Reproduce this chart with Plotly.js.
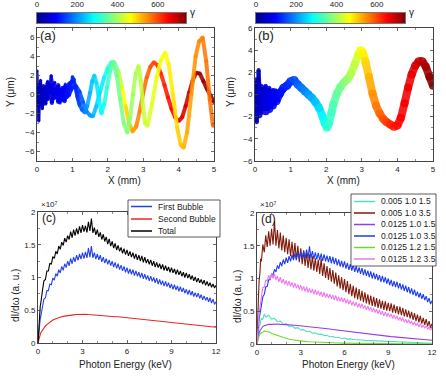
<!DOCTYPE html>
<html>
<head>
<meta charset="utf-8">
<script src="https://cdn.plot.ly/plotly-3.0.1.min.js"></script>
<style>
  html, body { margin: 0; padding: 0; background: #fff; }
  #chart { width: 446px; height: 377px; }
</style>
</head>
<body>
<div id="chart"></div>
<script>
'use strict';

// ---- trajectories, panel (a): x in mm, y in um, g = gamma ----
var trajA1X = [0, 0.06, 0.12, 0.18, 0.24, 0.3, 0.36, 0.42, 0.48, 0.54, 0.6, 0.66, 0.72, 0.78, 0.84, 0.9, 0.96, 1.02, 1.08, 1.14, 1.2, 1.27, 1.35, 1.42, 1.5, 1.56, 1.62, 1.68, 1.75, 1.82, 1.9, 1.98, 2.06, 2.15, 2.25, 2.35, 2.45, 2.55, 2.63, 2.71, 2.79, 2.87, 2.93, 2.99, 3.05, 3.12, 3.25, 3.38, 3.5, 3.62, 3.72, 3.84, 3.96, 4.06, 4.14, 4.24, 4.36, 4.48, 4.58, 4.68, 4.78, 4.88, 4.97];
var trajA1Y = [0, 1.0, -0.8, 0.9, -0.6, 1.2, 0.2, 1.0, -0.4, 0.6, -0.8, 0.5, -0.6, 0.8, -0.3, 0.9, 1.3, 1.4, 0.8, -0.2, -1.0, -1.6, -1.9, -1.2, 0.2, 1.4, 2.0, 1.2, -0.5, -2.0, -1.0, 0.8, 2.4, 3.4, 2.0, -0.5, -3.0, -4.0, -2.5, 0, 2.2, 3.0, 1.5, -1.0, -3.0, -3.3, -1.0, 1.8, 3.6, 4.4, 3.2, 0, -3.5, -5.3, -5.6, -4.0, 0, 4.0, 5.6, 6.0, 3.5, -0.5, -3.3];
var trajA1G = [30, 35, 40, 45, 50, 55, 60, 65, 70, 75, 80, 85, 90, 95, 100, 105, 110, 115, 120, 130, 145, 165, 190, 210, 225, 238, 248, 258, 268, 278, 292, 310, 330, 350, 358, 364, 370, 376, 385, 395, 403, 410, 416, 422, 427, 432, 440, 448, 455, 462, 470, 480, 492, 505, 515, 525, 535, 543, 550, 556, 562, 567, 572];

var trajA2X = [0, 0.06, 0.12, 0.18, 0.24, 0.3, 0.36, 0.42, 0.48, 0.54, 0.6, 0.66, 0.72, 0.78, 0.84, 0.9, 0.96, 1.02, 1.1, 1.2, 1.3, 1.4, 1.5, 1.58, 1.68, 1.78, 1.9, 2.0, 2.1, 2.18, 2.3, 2.4, 2.5, 2.6, 2.7, 2.8, 2.9, 3.0, 3.1, 3.2, 3.3, 3.4, 3.5, 3.6, 3.7, 3.8, 3.9, 4.0, 4.1, 4.2, 4.3, 4.4, 4.5, 4.6, 4.7, 4.8, 4.9, 5.0];
var trajA2Y = [0.4, -1.2, 0.6, -1.0, 0.8, -0.5, 0.9, -0.9, 0.5, -0.2, 1.0, -0.4, 0.7, -0.7, 0.6, -0.1, 0.5, 0.8, 0.9, 0.3, -0.8, -1.8, -2.2, -2.3, -1.2, 0.3, 1.8, 2.8, 3.4, 3.4, 2.4, 0.8, -1.2, -3.0, -3.9, -3.4, -1.8, 0.2, 1.8, 2.9, 3.4, 3.1, 2.2, 1.0, -0.3, -1.5, -2.4, -2.8, -2.4, -1.2, 0.2, 1.5, 2.3, 2.2, 1.4, 0.6, -0.1, -0.8];
var trajA2G = [30, 35, 40, 45, 50, 55, 60, 65, 70, 75, 80, 85, 90, 95, 100, 105, 110, 115, 125, 140, 160, 185, 205, 220, 238, 255, 275, 300, 330, 350, 400, 440, 480, 510, 530, 545, 555, 565, 575, 585, 595, 605, 615, 625, 635, 645, 655, 662, 670, 678, 688, 698, 708, 716, 724, 730, 735, 740];

var trajA3X = [0, 0.05, 0.1, 0.15, 0.2, 0.25, 0.3, 0.35, 0.4, 0.45, 0.5, 0.55, 0.6, 0.65, 0.7, 0.75, 0.8, 0.85, 0.9, 0.95, 1.0, 1.05, 1.1, 1.15, 1.2];
var trajA3Y = [2.5, -2.8, 1.5, -1.5, 0.4, -1.0, 1.4, 0.5, 2.0, 0.9, 1.3, -0.3, 0.8, -0.9, 0.4, -0.2, 1.1, 0.3, 1.2, 0.7, 1.9, 1.6, 0.6, -0.4, -1.2];
var trajA3G = [30, 34, 38, 42, 46, 50, 55, 60, 65, 70, 75, 80, 85, 90, 95, 100, 105, 110, 115, 120, 125, 130, 135, 142, 150];

// ---- trajectories, panel (b) ----
var trajB1X = [0, 0.05, 0.1, 0.15, 0.2, 0.25, 0.3, 0.35, 0.4, 0.45, 0.5, 0.55, 0.6, 0.7, 0.8, 0.9, 1.0, 1.1, 1.2, 1.3, 1.4, 1.5, 1.6, 1.7, 1.8, 1.9, 1.96, 2.02, 2.08, 2.15, 2.2, 2.3, 2.4, 2.5, 2.6, 2.7, 2.8, 2.9, 2.97, 3.03, 3.1, 3.2, 3.3, 3.4, 3.5, 3.6, 3.7, 3.8, 3.9, 4.0, 4.1, 4.2, 4.3, 4.4, 4.5, 4.6, 4.7, 4.8, 4.9, 5.0];
var trajB1Y = [0, 1.2, -1.8, 0.6, -1.4, 0.3, -1.5, 0.2, -1.3, 0.1, -1.0, 0.2, -0.6, 0.1, 0.6, 0.8, 1.2, 1.3, 0.9, 0.6, 0.3, 0.0, -0.3, -0.7, -1.2, -2.0, -2.6, -3.0, -2.6, -1.6, -0.9, 0.1, 0.7, 1.1, 1.4, 1.9, 2.7, 3.6, 4.0, 3.8, 3.0, 1.6, 0.1, -1.0, -1.7, -2.2, -2.5, -2.7, -2.9, -2.8, -2.1, -0.8, 0.6, 1.8, 2.6, 3.0, 3.0, 2.5, 1.6, 0.8];
var trajB1G = [30, 35, 40, 45, 50, 55, 60, 65, 70, 75, 80, 85, 90, 100, 110, 120, 130, 145, 160, 175, 190, 205, 220, 235, 250, 275, 290, 305, 315, 325, 335, 350, 360, 375, 390, 405, 420, 440, 455, 470, 490, 515, 540, 560, 575, 590, 605, 620, 632, 642, 650, 655, 660, 665, 672, 685, 700, 715, 728, 740];

var trajB2X = [0, 0.05, 0.1, 0.15, 0.2, 0.25, 0.3, 0.35, 0.4, 0.45, 0.5, 0.55, 0.6, 0.65, 0.7, 0.8, 0.9, 1.0];
var trajB2Y = [0, -2.5, 2.2, -0.8, 0.5, -1.0, 0.8, -0.7, 0.6, -0.5, 0.4, -0.8, 0.3, -0.3, 0.4, 0.3, 0.9, 1.0];
var trajB2G = [30, 35, 40, 45, 50, 55, 60, 65, 70, 75, 80, 85, 90, 95, 100, 110, 120, 130];

// ---- spectra: photon energy in keV, dI/dw in units of 1e7 ----
// coarse grid for the smooth curves
var energy = [0, 0.05, 0.1, 0.15, 0.2, 0.3, 0.4, 0.5, 0.6, 0.8, 1.0, 1.2, 1.4, 1.6, 1.8, 2.0, 2.2, 2.4, 2.6, 2.8, 3.0, 3.2, 3.4, 3.6, 3.8, 4.0, 4.2, 4.4, 4.6, 4.8, 5.0, 5.2, 5.4, 5.6, 5.8, 6.0, 6.2, 6.4, 6.6, 6.8, 7.0, 7.2, 7.4, 7.6, 7.8, 8.0, 8.2, 8.4, 8.6, 8.8, 9.0, 9.2, 9.4, 9.6, 9.8, 10.0, 10.2, 10.4, 10.6, 10.8, 11.0, 11.2, 11.4, 11.6, 11.8, 12.0];
// fine grid for the noisy curves
var energyFine = [0, 0.05, 0.1, 0.15, 0.2, 0.25, 0.3,
    0.4, 0.5, 0.6, 0.7, 0.8, 0.9,
    1.0, 1.1, 1.2, 1.3, 1.4, 1.5, 1.6, 1.7, 1.8, 1.9,
    2.0, 2.1, 2.2, 2.3, 2.4, 2.5, 2.6, 2.7, 2.8, 2.9,
    3.0, 3.1, 3.2, 3.3, 3.4, 3.5, 3.6, 3.7, 3.8, 3.9,
    4.0, 4.1, 4.2, 4.3, 4.4, 4.5, 4.6, 4.7, 4.8, 4.9,
    5.0, 5.1, 5.2, 5.3, 5.4, 5.5, 5.6, 5.7, 5.8, 5.9,
    6.0, 6.1, 6.2, 6.3, 6.4, 6.5, 6.6, 6.7, 6.8, 6.9,
    7.0, 7.1, 7.2, 7.3, 7.4, 7.5, 7.6, 7.7, 7.8, 7.9,
    8.0, 8.1, 8.2, 8.3, 8.4, 8.5, 8.6, 8.7, 8.8, 8.9,
    9.0, 9.1, 9.2, 9.3, 9.4, 9.5, 9.6, 9.7, 9.8, 9.9,
    10.0, 10.1, 10.2, 10.3, 10.4, 10.5, 10.6, 10.7, 10.8, 10.9,
    11.0, 11.1, 11.2, 11.3, 11.4, 11.5, 11.6, 11.7, 11.8, 11.9,
    12.0];

// panel (c)
var firstBubble = [0, 0.17, 0.25, 0.37, 0.42, 0.52, 0.55,
    0.67, 0.69, 0.80, 0.80, 0.90, 0.89,
    0.99, 0.96, 1.06, 1.02, 1.12, 1.07, 1.17, 1.11, 1.21, 1.15,
    1.25, 1.18, 1.29, 1.21, 1.31, 1.24, 1.34, 1.26, 1.36, 1.28,
    1.38, 1.29, 1.39, 1.30, 1.45, 1.31, 1.48, 1.30, 1.38, 1.28,
    1.36, 1.27, 1.34, 1.24, 1.31, 1.22, 1.29, 1.20, 1.27, 1.18,
    1.25, 1.16, 1.23, 1.14, 1.21, 1.12, 1.19, 1.10, 1.17, 1.08,
    1.15, 1.06, 1.13, 1.05, 1.12, 1.03, 1.10, 1.02, 1.08, 1.00,
    1.07, 0.98, 1.05, 0.97, 1.03, 0.95, 1.02, 0.94, 1.00, 0.92,
    0.99, 0.90, 0.97, 0.89, 0.95, 0.87, 0.94, 0.86, 0.92, 0.84,
    0.90, 0.82, 0.89, 0.81, 0.87, 0.79, 0.86, 0.78, 0.84, 0.76,
    0.82, 0.74, 0.81, 0.73, 0.79, 0.71, 0.77, 0.70, 0.76, 0.68,
    0.74, 0.66, 0.72, 0.65, 0.70, 0.63, 0.69, 0.61, 0.67, 0.59,
    0.63];
var secondBubble = [0, 0.06, 0.10, 0.13, 0.16, 0.20, 0.23, 0.26, 0.28, 0.32, 0.35, 0.37, 0.39, 0.40, 0.41, 0.42, 0.425, 0.43, 0.435, 0.44, 0.435, 0.44, 0.435, 0.43, 0.43, 0.425, 0.42, 0.415, 0.41, 0.41, 0.405, 0.40, 0.40, 0.395, 0.39, 0.39, 0.385, 0.38, 0.375, 0.37, 0.365, 0.36, 0.355, 0.35, 0.345, 0.34, 0.335, 0.33, 0.325, 0.32, 0.315, 0.31, 0.305, 0.30, 0.295, 0.29, 0.285, 0.28, 0.275, 0.27, 0.265, 0.26, 0.255, 0.25, 0.245, 0.24];
var total = [0, 0.27, 0.40, 0.56, 0.63, 0.74, 0.80,
    0.95, 0.97, 1.10, 1.10, 1.22, 1.20,
    1.32, 1.29, 1.40, 1.36, 1.48, 1.43, 1.54, 1.49, 1.60, 1.54,
    1.64, 1.58, 1.70, 1.61, 1.73, 1.64, 1.75, 1.66, 1.78, 1.68,
    1.80, 1.70, 1.79, 1.69, 1.85, 1.71, 1.90, 1.68, 1.76, 1.65,
    1.73, 1.62, 1.69, 1.58, 1.66, 1.55, 1.62, 1.51, 1.59, 1.48,
    1.55, 1.45, 1.52, 1.42, 1.49, 1.40, 1.46, 1.37, 1.44, 1.35,
    1.42, 1.33, 1.40, 1.31, 1.38, 1.29, 1.36, 1.27, 1.34, 1.25,
    1.33, 1.23, 1.31, 1.22, 1.28, 1.20, 1.27, 1.18, 1.25, 1.16,
    1.23, 1.15, 1.21, 1.13, 1.20, 1.11, 1.18, 1.10, 1.16, 1.08,
    1.15, 1.07, 1.13, 1.05, 1.12, 1.04, 1.10, 1.02, 1.08, 1.00,
    1.07, 0.99, 1.05, 0.97, 1.03, 0.95, 1.01, 0.93, 0.99, 0.92,
    0.97, 0.90, 0.96, 0.88, 0.94, 0.87, 0.92, 0.85, 0.90, 0.84,
    0.88];

// panel (d), named by the legend's three parameters
var s005_10_15 = [0, 0.11, 0.17, 0.27, 0.29, 0.39, 0.38, 0.46, 0.41, 0.44, 0.38, 0.39, 0.34, 0.35, 0.30, 0.31, 0.27, 0.28, 0.24, 0.25, 0.21, 0.22, 0.19, 0.195, 0.165, 0.17, 0.145, 0.15, 0.13, 0.13, 0.11, 0.115, 0.10, 0.10, 0.085, 0.09, 0.075, 0.078, 0.068, 0.068, 0.06, 0.06, 0.055, 0.053, 0.048, 0.048, 0.043, 0.042, 0.038, 0.037, 0.034, 0.033, 0.03, 0.029, 0.026, 0.025, 0.023, 0.022, 0.02, 0.019, 0.017, 0.016, 0.015, 0.014, 0.012, 0.011];
var s005_10_35 = [0, 0.5, 0.72, 0.98, 1.08, 1.30, 1.26,
    1.52, 1.40, 1.66, 1.48, 1.72, 1.50,
    1.76, 1.52, 1.88, 1.50, 1.74, 1.46, 1.70, 1.43, 1.66, 1.40,
    1.62, 1.37, 1.60, 1.34, 1.56, 1.31, 1.54, 1.28, 1.50, 1.25,
    1.46, 1.22, 1.43, 1.19, 1.40, 1.16, 1.37, 1.14, 1.34, 1.12,
    1.31, 1.10, 1.29, 1.07, 1.30, 1.04, 1.23, 1.01, 1.19, 0.98,
    1.16, 0.95, 1.13, 0.92, 1.09, 0.88, 1.05, 0.85, 1.02, 0.82,
    0.99, 0.79, 0.96, 0.76, 0.92, 0.73, 0.89, 0.70, 0.86, 0.68,
    0.84, 0.66, 0.81, 0.64, 0.79, 0.62, 0.76, 0.60, 0.74, 0.58,
    0.72, 0.57, 0.70, 0.55, 0.68, 0.54, 0.66, 0.52, 0.65, 0.51,
    0.63, 0.50, 0.62, 0.48, 0.60, 0.47, 0.58, 0.45, 0.57, 0.44,
    0.55, 0.42, 0.53, 0.41, 0.51, 0.39, 0.49, 0.37, 0.47, 0.35,
    0.45, 0.33, 0.43, 0.31, 0.40, 0.29, 0.38, 0.27, 0.35, 0.25,
    0.31];
var s0125_10_15 = [0, 0.08, 0.13, 0.17, 0.20, 0.24, 0.27, 0.28, 0.29, 0.30, 0.30, 0.305, 0.305, 0.30, 0.30, 0.295, 0.293, 0.29, 0.287, 0.283, 0.278, 0.273, 0.268, 0.263, 0.258, 0.253, 0.248, 0.243, 0.238, 0.233, 0.228, 0.222, 0.216, 0.210, 0.204, 0.198, 0.192, 0.186, 0.180, 0.174, 0.168, 0.162, 0.157, 0.152, 0.147, 0.142, 0.137, 0.132, 0.127, 0.122, 0.117, 0.113, 0.109, 0.105, 0.101, 0.097, 0.093, 0.089, 0.085, 0.081, 0.077, 0.073, 0.069, 0.065, 0.061, 0.057];
var s0125_10_35 = [0, 0.16, 0.27, 0.39, 0.45, 0.55, 0.59,
    0.72, 0.76, 0.87, 0.88, 0.98, 0.98,
    1.07, 1.05, 1.14, 1.10, 1.20, 1.15, 1.25, 1.19, 1.29, 1.22,
    1.32, 1.24, 1.34, 1.26, 1.36, 1.28, 1.38, 1.29, 1.40, 1.30,
    1.41, 1.31, 1.42, 1.31, 1.44, 1.31, 1.49, 1.31, 1.42, 1.30,
    1.40, 1.29, 1.39, 1.28, 1.38, 1.27, 1.37, 1.26, 1.35, 1.25,
    1.34, 1.23, 1.33, 1.22, 1.31, 1.20, 1.29, 1.18, 1.27, 1.17,
    1.26, 1.15, 1.24, 1.13, 1.22, 1.12, 1.21, 1.10, 1.19, 1.09,
    1.17, 1.07, 1.16, 1.05, 1.14, 1.04, 1.12, 1.02, 1.11, 1.00,
    1.09, 0.99, 1.07, 0.97, 1.05, 0.95, 1.04, 0.94, 1.02, 0.92,
    1.00, 0.90, 0.98, 0.88, 0.96, 0.87, 0.95, 0.85, 0.93, 0.83,
    0.91, 0.81, 0.89, 0.79, 0.87, 0.77, 0.85, 0.75, 0.83, 0.73,
    0.80, 0.71, 0.78, 0.69, 0.76, 0.67, 0.73, 0.64, 0.70, 0.61,
    0.66];
var s0125_12_15 = [0, 0.06, 0.10, 0.13, 0.15, 0.175, 0.18, 0.20, 0.19, 0.185, 0.16, 0.145, 0.12, 0.108, 0.092, 0.082, 0.072, 0.064, 0.057, 0.051, 0.046, 0.041, 0.037, 0.034, 0.031, 0.028, 0.026, 0.024, 0.022, 0.02, 0.019, 0.017, 0.016, 0.015, 0.014, 0.013, 0.012, 0.011, 0.011, 0.010, 0.009, 0.009, 0.008, 0.008, 0.007, 0.007, 0.007, 0.006, 0.006, 0.006, 0.005, 0.005, 0.005, 0.005, 0.004, 0.004, 0.004, 0.004, 0.004, 0.003, 0.003, 0.003, 0.003, 0.003, 0.003, 0.003];
var s0125_12_35 = [0, 0.22, 0.34, 0.50, 0.56, 0.68, 0.72,
    0.86, 0.87, 0.98, 0.96, 1.05, 0.99,
    1.08, 1.00, 1.07, 0.98, 1.04, 0.95, 1.02, 0.93, 0.99, 0.91,
    0.97, 0.89, 0.96, 0.88, 0.94, 0.86, 0.93, 0.85, 0.91, 0.83,
    0.90, 0.82, 0.88, 0.80, 0.87, 0.79, 0.85, 0.78, 0.84, 0.76,
    0.83, 0.75, 0.81, 0.74, 0.80, 0.72, 0.79, 0.71, 0.77, 0.70,
    0.76, 0.69, 0.75, 0.67, 0.74, 0.66, 0.72, 0.65, 0.71, 0.64,
    0.70, 0.62, 0.68, 0.61, 0.67, 0.59, 0.65, 0.58, 0.64, 0.56,
    0.62, 0.55, 0.61, 0.54, 0.59, 0.52, 0.58, 0.51, 0.56, 0.49,
    0.55, 0.48, 0.53, 0.46, 0.52, 0.45, 0.50, 0.43, 0.49, 0.42,
    0.47, 0.41, 0.46, 0.39, 0.44, 0.38, 0.43, 0.36, 0.41, 0.35,
    0.40, 0.33, 0.38, 0.32, 0.37, 0.31, 0.35, 0.29, 0.34, 0.28,
    0.32, 0.26, 0.31, 0.25, 0.29, 0.24, 0.28, 0.22, 0.26, 0.21,
    0.25];

var labelsC = ['First Bubble', 'Second Bubble', 'Total'];
var labelsD = ['0.005 1.0 1.5', '0.005 1.0 3.5', '0.0125 1.0 1.5', '0.0125 1.0 3.5', '0.0125 1.2 1.5', '0.0125 1.2 3.5'];

// colour bar range and ticks (gamma)
var gammaBar = [0, 740];
var gammaTicks = [0, 200, 400, 600];

// ---- styling ----
var W = 446, H = 377;
function px(x) { return x / W; }
function py(y) { return 1 - y / H; }

var jetRGB = [[0, [0, 0, 143]], [0.125, [0, 0, 255]], [0.375, [0, 255, 255]], [0.625, [255, 255, 0]], [0.875, [255, 0, 0]], [1, [128, 0, 0]]];
var jetScale = jetRGB.map(function (s) { return [s[0], 'rgb(' + s[1].join(',') + ')']; });

function jetColor(g) {
    var t = Math.max(0, Math.min(1, g / gammaBar[1]));
    for (var i = 1; i < jetRGB.length; i++) {
        if (t <= jetRGB[i][0]) {
            var a = jetRGB[i - 1], b = jetRGB[i];
            var f = (t - a[0]) / (b[0] - a[0]);
            return 'rgb(' + [0, 1, 2].map(function (k) {
                return Math.round(a[1][k] + f * (b[1][k] - a[1][k]));
            }).join(',') + ')';
        }
    }
    return jetScale[jetScale.length - 1][1];
}

//one coloured segment per step, plus dots to fill the joints
function trajTraces(xs, ys, gs, xa, ya, width) {
    var out = [];
    for (var i = 0; i < xs.length - 1; i++) {
        out.push({
            type: 'scatter', mode: 'lines', xaxis: xa, yaxis: ya,
            x: [xs[i], xs[i + 1]], y: [ys[i], ys[i + 1]],
            line: {color: jetColor((gs[i] + gs[i + 1]) / 2), width: width},
            opacity: 0.88, hoverinfo: 'skip', showlegend: false
        });
    }
    out.push({
        type: 'scatter', mode: 'markers', xaxis: xa, yaxis: ya,
        x: xs, y: ys,
        marker: {size: width, color: gs, colorscale: jetScale, cmin: gammaBar[0], cmax: gammaBar[1], line: {width: 0}},
        opacity: 0.88, hoverinfo: 'skip', showlegend: false
    });
    return out;
}

var colorsC = ['rgb(35,65,235)', 'rgb(235,35,35)', 'rgb(0,0,0)'];
var colorsD = ['rgb(80,222,195)', 'rgb(128,26,10)', 'rgb(150,60,228)', 'rgb(30,60,235)', 'rgb(110,218,40)', 'rgb(238,120,238)'];
var seriesC = [[energyFine, firstBubble], [energy, secondBubble], [energyFine, total]];
var seriesD = [[energy, s005_10_15], [energyFine, s005_10_35], [energy, s0125_10_15],
    [energyFine, s0125_10_35], [energy, s0125_12_15], [energyFine, s0125_12_35]];

var data = [];
data = data.concat(trajTraces(trajA3X, trajA3Y, trajA3G, 'x', 'y', 3));
data = data.concat(trajTraces(trajA2X, trajA2Y, trajA2G, 'x', 'y', 4));
data = data.concat(trajTraces(trajA1X, trajA1Y, trajA1G, 'x', 'y', 4));
data = data.concat(trajTraces(trajB2X, trajB2Y, trajB2G, 'x2', 'y2', 4));
data = data.concat(trajTraces(trajB1X, trajB1Y, trajB1G, 'x2', 'y2', 8));

seriesC.forEach(function (s, i) {
    data.push({type: 'scatter', mode: 'lines', x: s[0], y: s[1], xaxis: 'x3', yaxis: 'y3',
        name: labelsC[i], line: {color: colorsC[i], width: 1.1}, showlegend: false});
});
seriesD.forEach(function (s, i) {
    data.push({type: 'scatter', mode: 'lines', x: s[0], y: s[1], xaxis: 'x4', yaxis: 'y4',
        name: labelsD[i], line: {color: colorsD[i], width: 1.1}, showlegend: false});
});

// colour bars as small heatmaps
data.push({type: 'heatmap', x: gammaBar, y: [0, 1], z: [gammaBar, gammaBar], zsmooth: 'best',
    colorscale: jetScale, zmin: gammaBar[0], zmax: gammaBar[1], showscale: false, xaxis: 'x5', yaxis: 'y5', hoverinfo: 'skip'});
data.push({type: 'heatmap', x: gammaBar, y: [0, 1], z: [gammaBar, gammaBar], zsmooth: 'best',
    colorscale: jetScale, zmin: gammaBar[0], zmax: gammaBar[1], showscale: false, xaxis: 'x6', yaxis: 'y6', hoverinfo: 'skip'});

var font = 'Arial, "Liberation Sans", sans-serif';
function ax(extra) {
    var a = {
        showline: true, linecolor: '#444', linewidth: 1, mirror: 'ticks',
        ticks: 'inside', ticklen: 3, tickcolor: '#444', tickwidth: 0.8,
        tickfont: {size: 8, color: '#222', family: font},
        showgrid: false, zeroline: false, fixedrange: true
    };
    for (var k in extra) a[k] = extra[k];
    return a;
}
function minor(d) { return {ticks: 'inside', ticklen: 1.8, dtick: d, tickcolor: '#444', tickwidth: 0.6, showgrid: false}; }

function cbx(dom, anchor) {
    return {domain: dom, anchor: anchor, range: gammaBar, side: 'top', showline: true, mirror: true,
        linecolor: '#555', linewidth: 0.8, ticks: '', tickvals: gammaTicks, ticklabelstandoff: 2,
        tickfont: {size: 8, color: '#222', family: font}, showgrid: false, zeroline: false, fixedrange: true};
}
function cby(dom, anchor) {
    return {domain: dom, anchor: anchor, range: [0, 1], showline: true, mirror: true, linecolor: '#555',
        linewidth: 0.8, ticks: '', showticklabels: false, showgrid: false, zeroline: false, fixedrange: true};
}

var annotations = [];
function note(text, x, y, size, opts) {
    var a = {text: text, x: px(x), y: py(y), xref: 'paper', yref: 'paper', showarrow: false,
        font: {size: size, color: '#222', family: font}, xanchor: 'center', yanchor: 'middle'};
    for (var k in opts) a[k] = opts[k];
    annotations.push(a);
}
note('(a)', 38, 36, 13, {xanchor: 'left'});
note('(b)', 256, 36, 13, {xanchor: 'left'});
note('(c)', 40, 218, 12, {xanchor: 'left'});
note('(d)', 259, 219, 12, {xanchor: 'left'});
note('×10⁷', 39, 204, 8, {xanchor: 'left'});
note('×10⁷', 258, 205, 8, {xanchor: 'left'});
note('X (mm)', 125, 181, 10);
note('X (mm)', 343, 181, 10);
note('Y (μm)', 11, 92, 10, {textangle: -90});
note('Y (μm)', 231, 92, 10, {textangle: -90});
note('dI/dω (a. u.)', 15, 296, 10, {textangle: -90});
note('dI/dω (a. u.)', 237, 297, 10, {textangle: -90});
note('Photon Energy (keV)', 126, 364, 10);
note('Photon Energy (keV)', 348, 364, 10);
note('γ', 192, 12, 10);
note('γ', 411, 12, 10);

// hand-made legends (plotly legend rows are too tall here)
var shapes = [];
shapes.push({type: 'rect', xref: 'paper', yref: 'paper', x0: px(128), x1: px(220), y0: py(237), y1: py(200),
    fillcolor: '#fff', line: {color: '#333', width: 0.8}, layer: 'above'});
var rowsC = [206.5, 219, 231];
labelsC.forEach(function (t, i) {
    shapes.push({type: 'line', xref: 'paper', yref: 'paper', x0: px(131), x1: px(152), y0: py(rowsC[i]), y1: py(rowsC[i]),
        line: {color: colorsC[i], width: 1.5}, layer: 'above'});
    note(t, 156, rowsC[i], 8.5, {xanchor: 'left'});
});
shapes.push({type: 'rect', xref: 'paper', yref: 'paper', x0: px(351), x1: px(436), y0: py(266), y1: py(194),
    fillcolor: '#fff', line: {color: '#333', width: 0.8}, layer: 'above'});
var rowsD = [201.5, 213, 224.5, 236, 247.5, 259];
labelsD.forEach(function (t, i) {
    shapes.push({type: 'line', xref: 'paper', yref: 'paper', x0: px(354), x1: px(375), y0: py(rowsD[i]), y1: py(rowsD[i]),
        line: {color: colorsD[i], width: 1.5}, layer: 'above'});
    note(t, 379, rowsD[i], 8.5, {xanchor: 'left'});
});

var layout = {
    width: W, height: H,
    margin: {l: 0, r: 0, t: 0, b: 0},
    paper_bgcolor: '#fff', plot_bgcolor: '#fff',
    showlegend: false,
    font: {family: font, size: 8, color: '#222'},
    xaxis: ax({domain: [px(37), px(214)], anchor: 'y', range: [0, 5], dtick: 1, minor: minor(0.5)}),
    yaxis: ax({domain: [py(161), py(28)], anchor: 'x', range: [-7, 7], dtick: 2, minor: minor(1)}),
    xaxis2: ax({domain: [px(255), px(433)], anchor: 'y2', range: [0, 5], dtick: 1, minor: minor(0.5)}),
    yaxis2: ax({domain: [py(161), py(28)], anchor: 'x2', range: [-6, 6], dtick: 2, minor: minor(1)}),
    xaxis3: ax({domain: [px(38), px(216)], anchor: 'y3', range: [0, 12], dtick: 3, minor: minor(1)}),
    yaxis3: ax({domain: [py(343), py(212)], anchor: 'x3', range: [0, 2], dtick: 0.5, minor: minor(0.25)}),
    xaxis4: ax({domain: [px(257), px(432)], anchor: 'y4', range: [0, 12], dtick: 3, minor: minor(1)}),
    yaxis4: ax({domain: [py(344), py(213)], anchor: 'x4', range: [0, 2], dtick: 0.5, minor: minor(0.25)}),
    xaxis5: cbx([px(37), px(186)], 'y5'),
    yaxis5: cby([py(23), py(13)], 'x5'),
    xaxis6: cbx([px(256), px(405)], 'y6'),
    yaxis6: cby([py(23), py(13)], 'x6'),
    annotations: annotations,
    shapes: shapes
};

Plotly.newPlot('chart', data, layout, {staticPlot: true, displayModeBar: false});
</script>
</body>
</html>
